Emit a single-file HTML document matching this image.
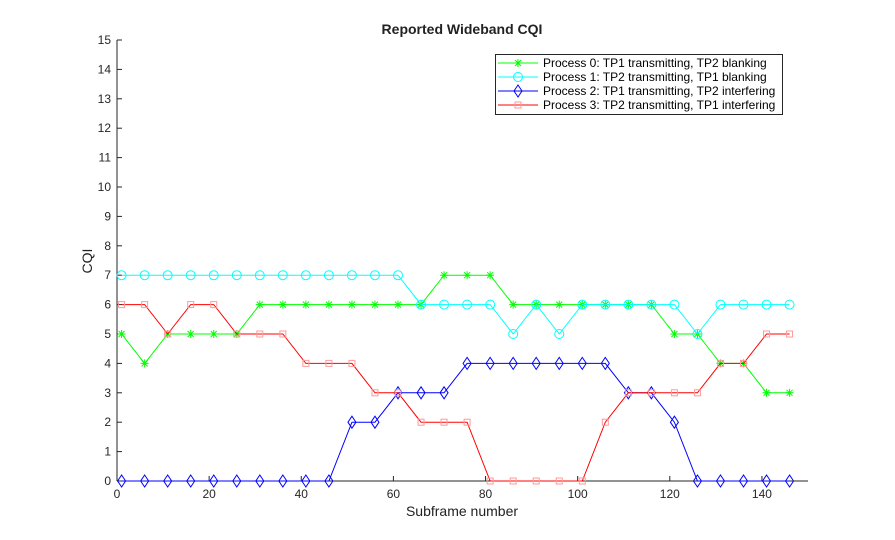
<!DOCTYPE html>
<html><head><meta charset="utf-8"><style>
html,body{margin:0;padding:0;background:#fff;}
svg{display:block;font-family:"Liberation Sans",Arial,sans-serif;}
</style></head><body>
<svg id="s" width="895" height="540" xmlns="http://www.w3.org/2000/svg"></svg>
<script>
const s=document.getElementById('s');
const X0=117,X1=808,Y0=481,Y1=40;
const fx=v=>X0+v*(X1-X0)/150, fy=v=>Y0-v*(Y0-Y1)/15;
let h='';
h+=`<rect x="${X0}" y="${Y1}" width="${X1-X0}" height="${Y0-Y1}" fill="#fff"/>`;
h+=`<text x="462" y="34" font-size="14" font-weight="bold" text-anchor="middle" fill="#222">Reported Wideband CQI</text>`;
h+=`<text x="462" y="516" font-size="14" text-anchor="middle" fill="#222">Subframe number</text>`;
h+=`<text transform="translate(92,261) rotate(-90)" font-size="14" text-anchor="middle" fill="#222">CQI</text>`;
for(let i=0;i<=15;i++){const y=fy(i);h+=`<line x1="${X0}" x2="${X0+5}" y1="${y}" y2="${y}" stroke="#262626"/><text x="${X0-6}" y="${y+4}" font-size="12" text-anchor="end" fill="#262626">${i}</text>`;}
for(let i=0;i<=140;i+=20){const x=fx(i);h+=`<line x1="${x}" x2="${x}" y1="${Y0}" y2="${Y0-5}" stroke="#262626"/><text x="${x}" y="${Y0+17}" font-size="12" text-anchor="middle" fill="#262626">${i}</text>`;}
h+=`<line x1="${X0}" x2="${X1}" y1="${Y0}" y2="${Y0}" stroke="#262626"/><line x1="${X0}" x2="${X0}" y1="${Y0}" y2="${Y1}" stroke="#262626"/>`;
const xs=[];for(let i=1;i<=146;i+=5)xs.push(i);
const S=[
 {c:'#00ff00',m:'star',d:[5,4,5,5,5,5,6,6,6,6,6,6,6,6,7,7,7,6,6,6,6,6,6,6,5,5,4,4,3,3]},
 {c:'#00ffff',m:'circ',d:[7,7,7,7,7,7,7,7,7,7,7,7,7,6,6,6,6,5,6,5,6,6,6,6,6,5,6,6,6,6]},
 {c:'#0000ff',m:'diam',d:[0,0,0,0,0,0,0,0,0,0,2,2,3,3,3,4,4,4,4,4,4,4,3,3,2,0,0,0,0,0]},
 {c:'#ff0000',m:'sq',d:[6,6,5,6,6,5,5,5,4,4,4,3,3,2,2,2,0,0,0,0,0,2,3,3,3,3,4,4,5,5]}];
function mk(m,x,y,c){
 if(m==='star')return `<path d="M${x-4} ${y}h8M${x} ${y-4}v8M${x-3} ${y-3}l6 6M${x-3} ${y+3}l6 -6" stroke="${c}" fill="none"/>`;
 if(m==='circ')return `<circle cx="${x}" cy="${y}" r="4.5" fill="none" stroke="${c}"/>`;
 if(m==='diam')return `<path d="M${x} ${y-6}L${x+4} ${y}L${x} ${y+6}L${x-4} ${y}Z" fill="none" stroke="${c}"/>`;
 return `<rect x="${x-3}" y="${y-3}" width="6" height="6" fill="none" stroke="#ff9999"/>`;
}
S.forEach(s=>{h+=`<polyline fill="none" stroke="${s.c}" points="${s.d.map((v,i)=>fx(xs[i])+','+fy(v)).join(' ')}"/>`;
 s.d.forEach((v,i)=>h+=mk(s.m,fx(xs[i]),fy(v),s.c));});
h+=`<rect x="495.5" y="54.5" width="287" height="60" fill="#fff" stroke="#262626"/>`;
const L=['Process 0: TP1 transmitting, TP2 blanking','Process 1: TP2 transmitting, TP1 blanking','Process 2: TP1 transmitting, TP2 interfering','Process 3: TP2 transmitting, TP1 interfering'];
S.forEach((s,i)=>{const y=63+i*14;h+=`<line x1="498" x2="538" y1="${y}" y2="${y}" stroke="${s.c}"/>`+mk(s.m,518,y,s.c)+`<text x="543" y="${y+4}" font-size="12" fill="#000">${L[i]}</text>`;});
s.innerHTML=h;
</script>
</body></html>
